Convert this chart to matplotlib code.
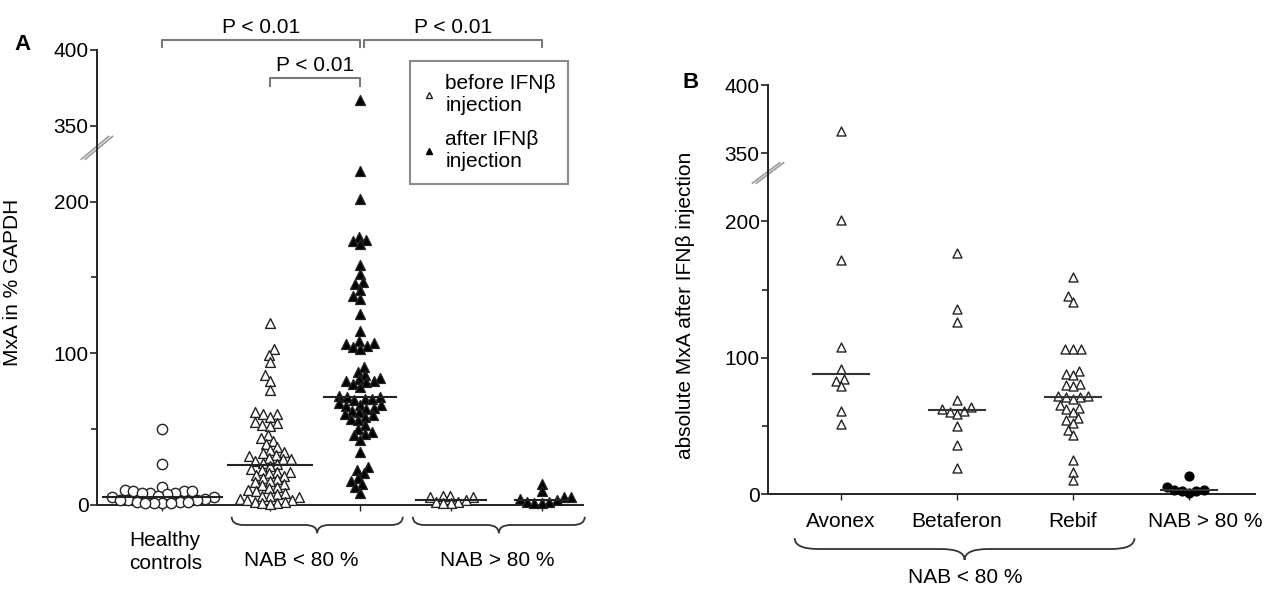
import numpy as np
import matplotlib.pyplot as plt
from matplotlib.lines import Line2D
from matplotlib.path import Path
from matplotlib.patches import PathPatch

plt.rcParams['font.family'] = ['Liberation Sans', 'DejaVu Sans']
FS = 15
plt.rcParams['font.size'] = FS

# ---- data ----
healthy = [50, 27, 12, 10, 9, 9, 9, 8, 8, 8, 7, 6, 5, 5, 4, 3, 3, 3, 2, 2, 2, 1, 1, 1, 1]
low_before = [120, 103, 99, 94, 86, 82, 76, 61, 60, 60, 58, 55, 54, 53, 52, 46, 44, 42,
              40, 38, 36, 35, 34, 33, 32, 31, 30, 30, 29, 28, 27, 26,
              24, 23, 22, 22, 21, 20, 19, 18, 17, 16, 15, 14, 13, 12, 11, 10, 9, 8,
              7, 6, 6, 5, 4, 3, 3, 2, 2, 1, 1, 0.5]
low_after = [367, 220, 202, 177, 175, 174, 172, 158, 152, 147, 146, 142, 138, 136, 126,
             115, 108, 107, 106, 105, 104, 103,
             91, 88, 86, 84, 83, 82, 82, 81, 80, 78, 72, 71, 71, 70, 70, 69, 67, 66, 66,
             65, 64, 63, 62, 61, 60, 59, 58, 57, 56, 53, 50, 48, 47, 46, 43,
             35, 25, 23, 21, 18, 16, 14, 12, 8]
high_before = [6, 6, 5, 5, 3, 2, 2, 1, 1]
high_after = [14, 9, 5, 5, 4, 3, 2, 2, 1, 1]

avonex = [366, 201, 172, 108, 92, 84, 83, 79, 61, 51]
betaferon = [177, 136, 126, 69, 64, 62, 61, 60, 59, 50, 36, 19]
rebif = [159, 145, 141, 106, 106, 106, 90, 88, 87, 81, 80, 79, 72, 72, 71, 71, 70,
         65, 63, 62, 60, 56, 54, 52, 47, 43, 25, 16, 10]
nab_high = [13, 5, 3, 3, 2, 2, 1]

yticks = [0, 100, 200, 350, 400]
a_groups = ['Healthy\ncontrols', 'NAB < 80 %', 'NAB > 80 %']
b_groups = ['Avonex', 'Betaferon', 'Rebif', 'NAB > 80 %']


# broken y axis: 235..335 is cut out
def fwd(v):
    v = np.asarray(v, float)
    return np.where(v <= 235, v, np.where(v >= 335, v - 100, 235.0))


def inv(d):
    d = np.asarray(d, float)
    return np.where(d <= 235, d, d + 100)


def swarm_x(ax, xc, vals, d):
    vals = np.asarray(vals, float)
    pts = ax.transData.transform(np.column_stack([np.full(len(vals), xc), vals]))
    x0 = pts[0, 0]
    ys = pts[:, 1]
    off = np.zeros(len(vals))
    done = []
    for i in np.argsort(ys, kind='stable'):
        y = ys[i]
        blocked = []
        for j in done:
            dy = abs(ys[j] - y)
            if dy < d:
                w = np.sqrt(d * d - dy * dy)
                blocked.append((off[j] - w, off[j] + w))
        cands = [0.0] + [b for iv in blocked for b in iv]
        cands.sort(key=abs)
        for c in cands:
            if all(not (lo + 1e-6 < c < hi - 1e-6) for lo, hi in blocked):
                off[i] = c
                break
        done.append(i)
    return ax.transData.inverted().transform(np.column_stack([x0 + off, ys]))[:, 0]


def brace(ax, x0, x1, ytop, ybot, color='#333333'):
    xm = (x0 + x1) / 2
    ym = (ytop + ybot) / 2
    r = (x1 - x0) * 0.07
    verts = [(x0, ytop), (x0, ym), (x0 + r, ym), (xm - r, ym), (xm, ym), (xm, ybot),
             (xm, ym), (xm + r, ym), (x1 - r, ym), (x1, ym), (x1, ytop)]
    codes = [Path.MOVETO, Path.CURVE3, Path.CURVE3, Path.LINETO, Path.CURVE3, Path.CURVE3,
             Path.CURVE3, Path.CURVE3, Path.LINETO, Path.CURVE3, Path.CURVE3]
    ax.add_patch(PathPatch(Path(verts, codes), fill=False, lw=1.3, color=color,
                           transform=ax.get_xaxis_transform(), clip_on=False))


def style_axis(ax):
    ax.set_yscale('function', functions=(fwd, inv))
    ax.set_ylim(0, 400)
    ax.set_yticks(yticks)
    ax.set_yticks([50, 150], minor=True)
    ax.spines[['top', 'right']].set_visible(False)
    for s in ('left', 'bottom'):
        ax.spines[s].set_linewidth(1.4)
        ax.spines[s].set_color('#222222')
    ax.tick_params(axis='y', which='major', length=5, width=1.2, color='#222222', pad=1,
                   labelsize=FS)
    ax.tick_params(axis='y', which='minor', length=4, width=1.2, color='#222222')
    ax.tick_params(axis='x', length=4, width=1.0, color='#222222', labelbottom=False)
    # break mark
    for dx in (-0.004, 0.004):
        ax.plot([-0.028 + dx, 0.028 + dx], [0.76, 0.81], transform=ax.transAxes,
                color='#999999', lw=1.2, clip_on=False)


fig = plt.figure(figsize=(12.79, 5.9), dpi=100)

# ---------------- panel A ----------------
ax = fig.add_axes([0.0758, 0.1441, 0.3800, 0.7712])
style_axis(ax)
xa = [0.72, 1.9, 2.89, 3.89, 4.89]
ax.set_xlim(0, 5.34)
ax.set_xticks(xa)

a_series = [healthy, low_before, low_after, high_before, high_after]
a_marker = ['o', '^', '^', '^', '^']
a_face = ['white', 'white', 'black', 'white', 'black']
a_half = [0.65, 0.46, 0.40, 0.38, 0.30]
for xc, vals, m, fc, hw in zip(xa, a_series, a_marker, a_face, a_half):
    xs = swarm_x(ax, xc, vals, 7.6 if m == '^' else 8.6)
    ax.scatter(xs, vals, s=50 if m == '^' else 55, marker=m, facecolor=fc,
               edgecolor='#222222', linewidth=1.0, zorder=3, clip_on=False)
    med = np.median(vals)
    ax.plot([xc - hw, xc + hw], [med, med], color='#222222', lw=1.5, zorder=4)

ax.set_ylabel('MxA in % GAPDH', fontsize=FS)
ax.yaxis.set_label_coords(-0.155, 0.49)

# significance brackets
tr = ax.get_xaxis_transform()
brk = '#7a7a7a'
for x0, x1, yb, yt in [(xa[0], xa[2], 1.022, 1.007), (xa[2] + 0.04, xa[4], 1.022, 1.007),
                       (xa[1], xa[2], 0.938, 0.921)]:
    ax.plot([x0, x0, x1, x1], [yt, yb, yb, yt], color=brk, lw=1.5, transform=tr,
            clip_on=False)
    ax.text((x0 + x1) / 2, yb + 0.006, 'P < 0.01', ha='center', va='bottom',
            transform=tr, fontsize=FS)

# legend
handles = [Line2D([], [], ls='none', marker='^', ms=5, mfc='white', mec='#222222', mew=1),
           Line2D([], [], ls='none', marker='^', ms=5, mfc='black', mec='black')]
leg = ax.legend(handles, ['before IFNβ\ninjection', 'after IFNβ\ninjection'],
                loc='upper left', bbox_to_anchor=(0.644, 0.975), fancybox=False,
                edgecolor='#8a8a8a', framealpha=1, handlelength=0.6, handletextpad=0.5,
                borderpad=0.6, labelspacing=0.75, fontsize=FS, borderaxespad=0)
leg.get_frame().set_linewidth(1.5)

# group labels with braces
brace(ax, 1.48, 3.36, -0.026, -0.062)
brace(ax, 3.47, 5.36, -0.026, -0.062)
ax.text(0.75, -0.103, a_groups[0], transform=tr, ha='center', va='center',
        linespacing=1.25)
ax.text(2.25, -0.123, a_groups[1], transform=tr, ha='center', va='center')
ax.text(4.40, -0.123, a_groups[2], transform=tr, ha='center', va='center')

fig.text(0.011, 0.925, 'A', fontweight='bold', fontsize=16, va='center')

# ---------------- panel B ----------------
bx = fig.add_axes([0.6005, 0.1627, 0.3808, 0.6932])
style_axis(bx)
xb = [1, 2, 3, 4]
bx.set_xlim(0.37, 4.57)
bx.set_xticks(xb)

b_series = [avonex, betaferon, rebif, nab_high]
for xc, vals in zip(xb, b_series):
    xs = swarm_x(bx, xc, vals, 7.6)
    if vals is nab_high:
        bx.scatter(xs, vals, s=40, marker='o', facecolor='black', edgecolor='black',
                   zorder=3, clip_on=False)
    else:
        bx.scatter(xs, vals, s=42, marker='^', facecolor='white', edgecolor='#222222',
                   linewidth=1.0, zorder=3)
    med = np.median(vals)
    bx.plot([xc - 0.24, xc + 0.24], [med, med], color='#333333', lw=1.5, zorder=4)

bx.set_ylabel('absolute MxA after IFNβ injection', fontsize=FS)
bx.yaxis.set_label_coords(-0.15, 0.46)

trb = bx.get_xaxis_transform()
for xc, lab in zip(xb, b_groups):
    bx.text(xc + (0.14 if xc == 4 else 0), -0.068, lab, transform=trb, ha='center',
            va='center')
brace(bx, 0.60, 3.53, -0.108, -0.161)
bx.text(2.07, -0.205, 'NAB < 80 %', transform=trb, ha='center', va='center')

fig.text(0.534, 0.86, 'B', fontweight='bold', fontsize=16, va='center')

fig.savefig('out.png', dpi=100)
